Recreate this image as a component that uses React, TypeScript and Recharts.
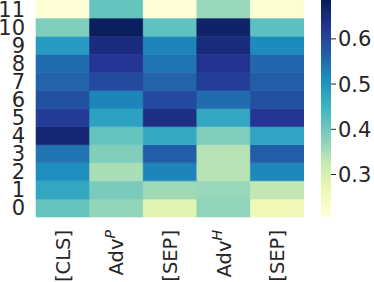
import { Bar, BarChart, Cell, XAxis, YAxis } from "recharts";

const columns = ["[CLS]", "AdvP", "[SEP]", "AdvH", "[SEP]"];
const rowLabels = ["0", "1", "2", "3", "4", "5", "6", "7", "8", "9", "10", "11"];

// values per column, row 0 .. row 11
const clsValues = [0.41, 0.47, 0.51, 0.54, 0.66, 0.614, 0.585, 0.56, 0.55, 0.49, 0.386, 0.21];
const advPValues = [0.37, 0.39, 0.35, 0.384, 0.41, 0.48, 0.52, 0.595, 0.626, 0.647, 0.68, 0.41];
const sepValues = [0.283, 0.36, 0.52, 0.566, 0.465, 0.64, 0.595, 0.56, 0.54, 0.52, 0.417, 0.21];
const advHValues = [0.37, 0.365, 0.34, 0.34, 0.385, 0.47, 0.55, 0.613, 0.63, 0.65, 0.67, 0.365];
const sep2Values = [0.254, 0.33, 0.517, 0.566, 0.475, 0.625, 0.585, 0.566, 0.556, 0.513, 0.42, 0.215];

const colorTicks = [0.3, 0.4, 0.5, 0.6];
const vmin = 0.206;
const vmax = 0.686;

const YLGNBU = ["#ffffd9", "#edf8b1", "#c7e9b4", "#7fcdbb", "#41b6c4", "#1d91c0", "#225ea8", "#253494", "#081d58"];
const TEXT = "#262626";
const FONT = "'DejaVu Sans', sans-serif";
const FS = 21;

const allValues = [clsValues, advPValues, sepValues, advHValues, sep2Values];

function hex(c: string) {
  return [1, 3, 5].map((i) => parseInt(c.slice(i, i + 2), 16));
}

function colorFor(v: number) {
  let t = (v - vmin) / (vmax - vmin);
  t = Math.min(1, Math.max(0, t));
  const p = t * (YLGNBU.length - 1);
  const i = Math.min(YLGNBU.length - 2, Math.floor(p));
  const f = p - i;
  const a = hex(YLGNBU[i]);
  const b = hex(YLGNBU[i + 1]);
  const rgb = a.map((x, k) => Math.round(x + (b[k] - x) * f));
  return `rgb(${rgb.join(",")})`;
}

const data = columns.map((name, c) => {
  const row: Record<string, string | number> = { name, col: c };
  rowLabels.forEach((_, r) => {
    row[`r${r}`] = 1;
  });
  return row;
});

function ColumnTick(props: any) {
  const { x, y, payload } = props;
  const label: string = payload.value;
  const sup = label === "AdvP" ? "P" : label === "AdvH" ? "H" : null;
  return (
    <g transform={`translate(${x},${y})`}>
      <text
        transform="rotate(-90)"
        x={-5}
        y={0}
        dy="0.36em"
        textAnchor="end"
        fill={TEXT}
        fontSize={19.5}
        fontFamily={FONT}
      >
        {sup ? (
          <>
            <tspan>Adv</tspan>
            <tspan fontSize={14} fontStyle="italic" dy="-0.6em">
              {sup}
            </tspan>
          </>
        ) : (
          label
        )}
      </text>
    </g>
  );
}

export default function App() {
  return (
    <div style={{ position: "fixed", left: 0, top: 0, width: 374, height: 282, background: "#fff" }}>
      <div style={{ position: "absolute", left: 0, top: 0 }}>
        <BarChart
          width={304}
          height={282}
          data={data}
          margin={{ top: 0, right: 0, left: 0, bottom: 0 }}
          barCategoryGap={0}
          barGap={0}
        >
          <XAxis
            dataKey="col"
            type="category"
            interval={0}
            axisLine={false}
            tickLine={false}
            height={65}
            tick={(p: any) => <ColumnTick {...p} payload={{ value: columns[p.payload.value] }} />}
          />
          <YAxis
            type="number"
            domain={[0, rowLabels.length]}
            ticks={rowLabels.map((_, i) => i + 0.5)}
            tickFormatter={(v) => rowLabels[Math.floor(v)]}
            axisLine={false}
            tickLine={false}
            width={36}
            tickSize={6}
            tickMargin={5}
            interval={0}
            tick={{ fill: TEXT, fontSize: FS, fontFamily: FONT }}
          />
          {rowLabels.map((_, r) => (
            <Bar key={r} dataKey={`r${r}`} stackId="heat" isAnimationActive={false}>
              {columns.map((_, c) => {
                const fill = colorFor(allValues[c][r]);
                return <Cell key={c} fill={fill} stroke={fill} strokeWidth={0.6} />;
              })}
            </Bar>
          ))}
        </BarChart>
      </div>
      <div style={{ position: "absolute", left: 321, top: 0 }}>
        <BarChart
          width={53}
          height={282}
          data={[{ name: "cb", range: [vmin, vmax] }]}
          margin={{ top: 0, right: 0, left: 0, bottom: 65 }}
          barCategoryGap={0}
        >
          <defs>
            <linearGradient id="ylgnbu" x1="0" y1="1" x2="0" y2="0">
              {YLGNBU.map((c, i) => (
                <stop key={i} offset={i / (YLGNBU.length - 1)} stopColor={c} />
              ))}
            </linearGradient>
          </defs>
          <XAxis dataKey="name" hide />
          <YAxis
            orientation="right"
            type="number"
            domain={[vmin, vmax]}
            ticks={colorTicks}
            tickFormatter={(v) => v.toFixed(1)}
            width={43}
            axisLine={false}
            tickSize={5}
            tickMargin={2}
            tickLine={{ stroke: TEXT, strokeWidth: 1 }}
            tick={{ fill: TEXT, fontSize: FS, fontFamily: FONT }}
          />
          <Bar dataKey="range" fill="url(#ylgnbu)" isAnimationActive={false} />
        </BarChart>
      </div>
    </div>
  );
}
